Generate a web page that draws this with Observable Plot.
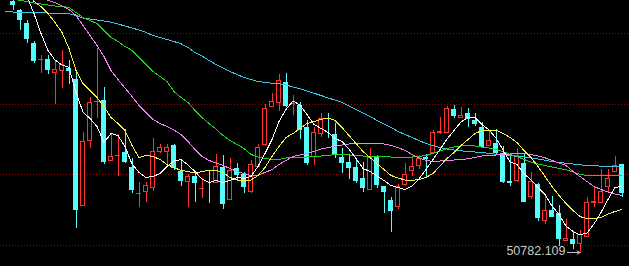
<!DOCTYPE html>
<html><head><meta charset="utf-8">
<script src="https://cdn.jsdelivr.net/npm/d3@7"></script>
<script src="https://cdn.jsdelivr.net/npm/@observablehq/plot@0.6"></script>
<style>html,body{margin:0;padding:0;background:#000;overflow:hidden}#chart svg{display:block}</style>
</head><body><div id="chart"></div>
<script>
// candle OHLC, index 0..87
const open = [
 55822,55642,55388,54988,54652,54662,54388,54428,54476,54262,
 51728,53028,53812,53842,52628,52732,52808,52508,51972,52008,
 52088,52808,52808,52942,52422,52216,52322,52072,52408,52188,
 52496,51856,52476,52362,52008,52522,52962,53722,53788,54196,
 53772,53742,53296,52722,53176,53212,53162,52696,52608,52496,
 52288,52056,52722,52122,51842,51722,52156,52428,52542,52696,
 52788,53188,53188,53656,53496,53576,53442,53308,52942,52988,
 52788,52222,52228,52576,51908,52162,51442,51642,51588,51028,
 51056,50976,51122,51802,51788,52108,52408,52556];
const high = [
 55842,55662,55442,55022,54742,54742,54622,54842,54642,54442,
 53208,53908,54882,54096,53176,53162,53256,52676,52208,52208,
 53076,52962,52956,52956,52642,52362,52408,52276,52436,52756,
 52742,52676,52588,52408,52642,52956,53762,53988,54356,54388,
 53942,53808,53442,53296,53576,53576,53376,52876,52762,52642,
 52596,52876,52742,52132,51896,52156,52576,52696,52742,52762,
 53242,53496,53722,53742,53696,53676,53576,53408,53242,53256,
 52922,52742,52876,52762,52408,52188,51962,51922,51742,51456,
 51208,51242,51908,52122,52456,52456,52722,52562];
const low = [
 55652,55242,54988,54576,54388,54362,53756,54088,54156,51288,
 51722,52888,53488,52562,52622,52328,52576,51976,51708,51796,
 52028,52782,52496,52442,52122,51696,51808,51888,51782,52182,
 51656,51852,52242,51988,51988,52496,52922,53708,53628,53708,
 53542,53056,52542,52542,53108,53076,52676,52388,52256,52176,
 52008,52052,52076,51588,51208,51656,52122,52322,52456,52308,
 52782,53162,53182,53476,53492,53308,53322,52876,52922,52742,
 52188,52122,52208,51802,51856,51428,51362,51502,50922,51022,
 50862,50782.109,51102,51696,51782,51988,52402,51908];
const close = [
 55742,55452,55056,54628,54662,54442,54456,54556,54422,51642,
 53022,53796,53822,52608,52722,52742,52608,52042,51982,52142,
 52822,52896,52896,52476,52228,52308,52188,52082,52396,52522,
 51762,52442,52342,52096,52556,52896,53676,53808,54242,53728,
 53782,53242,52576,53202,53476,53202,52762,52588,52476,52228,
 52088,52696,52142,52008,51628,52122,52356,52508,52676,52662,
 53188,53222,53676,53522,53542,53456,53356,52908,53042,52788,
 52208,52176,52742,51808,52208,51476,51642,51508,51056,51076,
 50962,51162,51788,51812,52008,52276,52542,51976];

// moving averages (first candle index given separately)
const ma5Start = 2;
const ma5 = [
 55922,55582,55182,54842,54652,54552,54502,54002,53612,53482,
 53322,53002,53182,53142,52922,52572,52402,52302,52322,52382,
 52522,52632,52662,52552,52422,52272,52202,52242,52202,52242,
 52302,52282,52322,52522,52782,53062,53422,53662,53832,53752,
 53562,53362,53282,53202,53082,53022,52872,52682,52482,52422,
 52332,52242,52142,52102,52062,52132,52272,52462,52662,52862,
 53072,53242,53412,53502,53502,53362,53252,53092,52852,52612,
 52562,52382,52252,52102,51962,51732,51562,51332,51222,51156,
 51192,51372,51602,51862,52102,52122];
const ma10Start = 2;
const ma10 = [
 56002,55822,55722,55582,55402,55202,54882,54442,54182,54042,
 53902,53722,53502,53382,53242,52942,52702,52742,52722,52662,
 52562,52502,52442,52422,52392,52422,52442,52442,52402,52302,
 52252,52242,52252,52342,52502,52722,52922,53102,53182,53282,
 53382,53422,53462,53492,53442,53302,53142,52982,52822,52702,
 52582,52462,52342,52292,52252,52242,52262,52302,52382,52532,
 52682,52802,52942,53062,53182,53242,53252,53252,53182,53102,
 53002,52842,52702,52522,52322,52122,51942,51782,51642,51522,
 51476,51476,51502,51572,51622,51662];
const ma20Start = 4;
const ma20 = [
 55922,55842,55802,55732,55662,55542,55342,55142,54942,54722,
 54442,54262,54092,53922,53742,53602,53462,53382,53322,53252,
 53162,53022,52862,52722,52642,52592,52542,52482,52422,52382,
 52342,52352,52402,52462,52562,52642,52722,52752,52782,52822,
 52872,52902,52922,52952,52972,52982,52988,52988,52988,52972,
 52942,52902,52842,52762,52692,52642,52622,52632,52642,52652,
 52662,52676,52702,52732,52742,52752,52762,52772,52782,52782,
 52762,52732,52696,52642,52592,52542,52422,52322,52222,52122,
 52062,52012,51972,51942];
const ma30Start = 0;
const ma30 = [
 55872,55842,55822,55792,55772,55752,55732,55722,55702,55602,
 55502,55442,55382,55242,55102,55022,54922,54842,54702,54562,
 54422,54322,54222,54022,53902,53802,53642,53502,53382,53272,
 53142,53042,52962,52882,52762,52712,52682,52662,52662,52692,
 52712,52712,52712,52716,52732,52742,52762,52762,52752,52742,
 52732,52722,52722,52722,52712,52702,52702,52712,52722,52742,
 52788,52832,52882,52912,52932,52942,52932,52908,52892,52862,
 52822,52762,52722,52662,52612,52572,52542,52512,52482,52456,
 52412,52362,52342,52342,52342,52342,52342,52342];
const ma60Start = -1;
const ma60 = [
 55622,55612,55602,55602,55602,55596,55592,55588,55582,55576,
 55542,55492,55472,55452,55432,55408,55372,55332,55292,55252,
 55202,55142,55102,55062,55022,54976,54902,54802,54732,54642,
 54562,54492,54422,54362,54302,54262,54222,54202,54188,54176,
 54152,54112,54076,54032,53988,53942,53892,53852,53802,53732,
 53662,53592,53522,53442,53372,53302,53222,53162,53102,53042,
 52982,52942,52902,52872,52852,52836,52822,52812,52802,52786,
 52768,52758,52742,52726,52712,52696,52672,52648,52622,52602,
 52588,52572,52556,52542,52536,52530,52526,52522,52522];

const gridLevels = [55176, 53766, 52356, 50946];

const RED = "#ff3232", CYAN = "#54fcfc";
const candles = open.map((o, i) => ({i, open: o, high: high[i], low: low[i], close: close[i]}));
const ups = candles.filter(d => d.close >= d.open);
const downs = candles.filter(d => d.close < d.open);
const series = (start, vals) => vals.map((v, k) => ({i: start + k, v}));
const lowest = candles.reduce((a, b) => (b.low < a.low ? b : a));
const lineOpts = {x: "i", y: "v", strokeWidth: 1, shapeRendering: "crispEdges"};

const chart = Plot.plot({
  width: 629, height: 266, margin: 0,
  style: {background: "#000"},
  x: {type: "linear", domain: [-12.5 / 7, (629 - 12.5) / 7], axis: null},
  y: {domain: [50522, 55842], axis: null},
  marks: [
    Plot.ruleY(gridLevels, {stroke: "#a00000", strokeDasharray: "1,2", shapeRendering: "crispEdges"}),
    Plot.ruleX(ups, {x: "i", y1: "low", y2: "high", stroke: RED, shapeRendering: "crispEdges"}),
    Plot.ruleX(downs, {x: "i", y1: "low", y2: "high", stroke: CYAN, shapeRendering: "crispEdges"}),
    Plot.rect(downs, {x1: d => d.i - 2.5 / 7, x2: d => d.i + 2.5 / 7, y1: "open", y2: "close", fill: CYAN, shapeRendering: "crispEdges"}),
    Plot.rect(ups, {x1: d => d.i - 2 / 7, x2: d => d.i + 2 / 7, y1: "open", y2: "close", fill: "#000", stroke: RED, shapeRendering: "crispEdges"}),
    Plot.line(series(ma60Start, ma60), {...lineOpts, stroke: "#3cc6e6"}),
    Plot.line(series(ma30Start, ma30), {...lineOpts, stroke: "#1ed21e"}),
    Plot.line(series(ma20Start, ma20), {...lineOpts, stroke: "#ee82ee"}),
    Plot.line(series(ma10Start, ma10), {...lineOpts, stroke: "#f2f24a"}),
    Plot.line(series(ma5Start, ma5), {...lineOpts, stroke: "#ffffff"}),
    Plot.arrow([lowest], {x1: d => d.i - 1.8, x2: "i", y1: "low", y2: "low", dy: -1, stroke: "#c0c0c0", strokeWidth: 1, headLength: 5}),
    Plot.text([lowest], {x: "i", y: "low", text: d => d.low.toFixed(3), dx: -14.5, dy: -2, textAnchor: "end",
      fill: "#c8c8c8", fontSize: 12.5, fontFamily: "Liberation Sans, Arial, sans-serif"})
  ]
});
document.getElementById("chart").appendChild(chart);
</script>
</body></html>
